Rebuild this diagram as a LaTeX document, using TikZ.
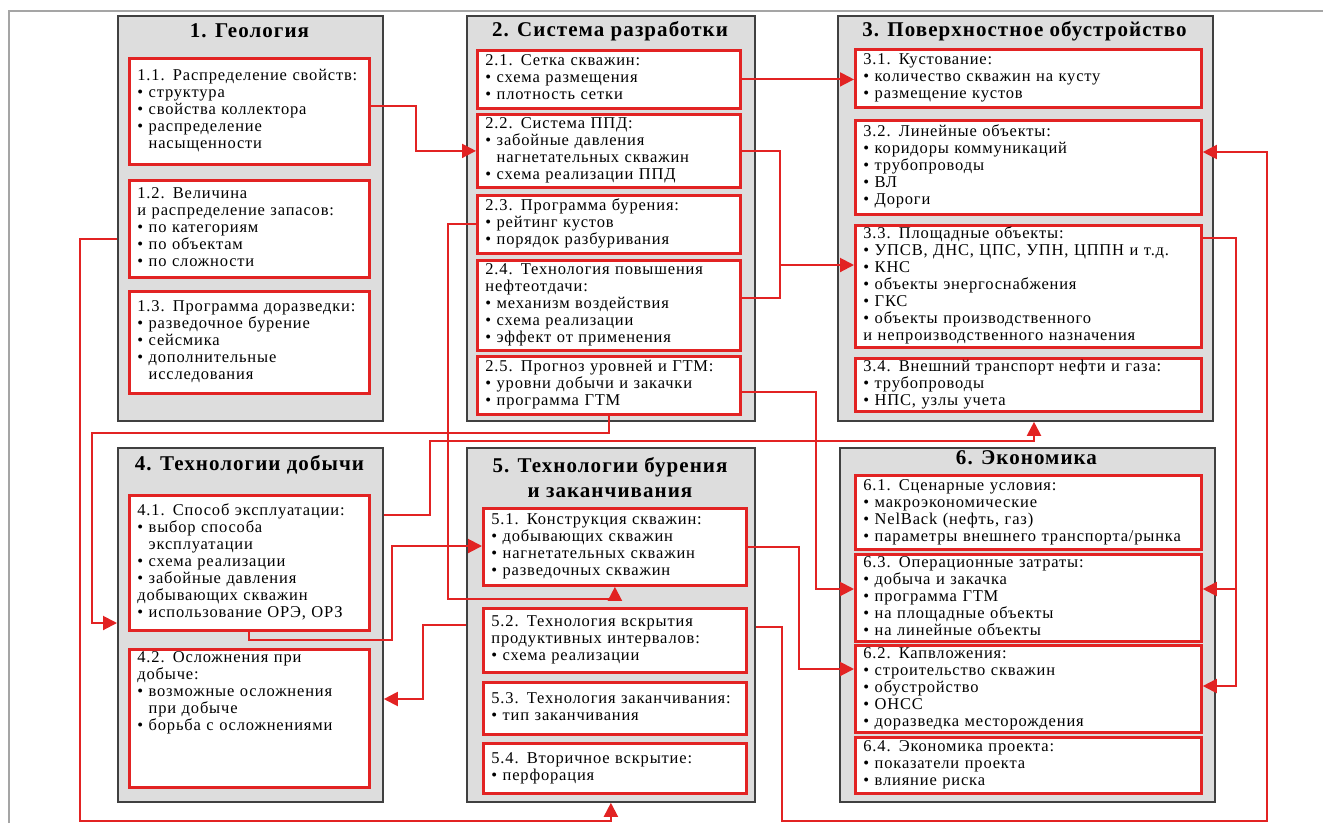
\documentclass[tikz,border=0pt]{standalone}
\usepackage{fontspec}
\setmainfont{Liberation Serif}[LetterSpace=5]
\usetikzlibrary{arrows.meta}
\definecolor{boxred}{RGB}{226,35,35}
\definecolor{boxgray}{RGB}{221,221,221}
\definecolor{framegray}{RGB}{165,165,165}
\newcommand{\ind}{\hphantom{• }}
\newcommand{\lines}[1]{\begin{tabular}{@{}l@{}}#1\end{tabular}}

\tikzset{
 grp/.style={rectangle,draw=black!75,fill=boxgray,line width=1.8pt,anchor=north west,inner sep=0pt},
 ttl/.style={font=\fontsize{21}{25}\selectfont\bfseries,align=center},
 item/.style={rectangle,draw=boxred,fill=white,line width=2.8pt,anchor=north west,inner xsep=8pt,inner ysep=1pt,align=left,font=\fontsize{16.5}{17}\selectfont},
 wa/.style={minimum width=240pt,text width=224pt},
 wb/.style={minimum width=263pt,text width=247pt},
 wc/.style={minimum width=346pt,text width=330pt},
 link/.style={draw=boxred,line width=2pt,-{Triangle[length=14pt,width=14pt]}},
 wire/.style={draw=boxred,line width=2pt}
}

\begin{document}
\begin{tikzpicture}[x=1pt,y=-1pt]
\useasboundingbox (0,0) rectangle (1323,823);
\draw[framegray,line width=1.5pt] (9,823) -- (9,11) -- (1323,11);

\node[grp,minimum width=265pt,minimum height=405pt] (g1) at (117,15) {};
\node[grp,minimum width=288pt,minimum height=405pt] (g2) at (466,15) {};
\node[grp,minimum width=375pt,minimum height=405pt] (g3) at (837,15) {};
\node[grp,minimum width=265pt,minimum height=354pt] (g4) at (117,447) {};
\node[grp,minimum width=288pt,minimum height=354pt] (g5) at (466,447) {};
\node[grp,minimum width=375pt,minimum height=354pt] (g6) at (839,447) {};

\node[ttl] (t1) at (249.5,31) {1. Геология};
\node[ttl] (t2) at (610,31) {2. Система разработки};
\node[ttl] (t3) at (1024.5,31) {3. Поверхностное обустройство};
\node[ttl] (t4) at (249.5,465) {4. Технологии добычи};
\node[ttl] (t5) at (610,478) {5. Технологии бурения\\и заканчивания};
\node[ttl] (t6) at (1026.5,458) {6. Экономика};

\node[item,wa,minimum height=106pt] (s11) at (128,57) {\lines{1.1. Распределение свойств:\\• структура\\• свойства коллектора\\• распределение\\\ind насыщенности}};
\node[item,wa,minimum height=97pt] (s12) at (128,179) {\lines{1.2. Величина\\и распределение запасов:\\• по категориям\\• по объектам\\• по сложности}};
\node[item,wa,minimum height=102pt] (s13) at (128,290) {\lines{1.3. Программа доразведки:\\• разведочное бурение\\• сейсмика\\• дополнительные\\\ind исследования}};

\node[item,wb,minimum height=58pt] (s21) at (476,49) {\lines{2.1. Сетка скважин:\\• схема размещения\\• плотность сетки}};
\node[item,wb,minimum height=73pt] (s22) at (476,113) {\lines{2.2. Система ППД:\\• забойные давления\\\ind нагнетательных скважин\\• схема реализации ППД}};
\node[item,wb,minimum height=58pt] (s23) at (476,194) {\lines{2.3. Программа бурения:\\• рейтинг кустов\\• порядок разбуривания}};
\node[item,wb,minimum height=90pt] (s24) at (476,259) {\lines{2.4. Технология повышения\\нефтеотдачи:\\• механизм воздействия\\• схема реализации\\• эффект от применения}};
\node[item,wb,minimum height=58pt] (s25) at (476,355) {\lines{2.5. Прогноз уровней и ГТМ:\\• уровни добычи и закачки\\• программа ГТМ}};

\node[item,wc,minimum height=58pt] (s31) at (854,48) {\lines{3.1. Кустование:\\• количество скважин на кусту\\• размещение кустов}};
\node[item,wc,minimum height=94pt] (s32) at (854,119) {\lines{3.2. Линейные объекты:\\• коридоры коммуникаций\\• трубопроводы\\• ВЛ\\• Дороги}};
\node[item,wc,minimum height=122pt] (s33) at (854,224) {\lines{3.3. Площадные объекты:\\• УПСВ, ДНС, ЦПС, УПН, ЦППН и т.д.\\• КНС\\• объекты энергоснабжения\\• ГКС\\• объекты производственного\\и непроизводственного назначения}};
\node[item,wc,minimum height=53pt] (s34) at (854,357) {\lines{3.4. Внешний транспорт нефти и газа:\\• трубопроводы\\• НПС, узлы учета}};

\node[item,wa,minimum height=135pt] (s41) at (128,494) {\lines{4.1. Способ эксплуатации:\\• выбор способа\\\ind эксплуатации\\• схема реализации\\• забойные давления\\добывающих скважин\\• использование ОРЭ, ОРЗ}};
\node[item,wa,minimum height=135pt] (s42) at (128,648) {\lines{4.2. Осложнения при\\добыче:\\• возможные осложнения\\\ind при добыче\\• борьба с осложнениями\\~\\~\\~}};

\node[item,wb,minimum width=262pt,minimum height=77pt] (s51) at (482,507) {\lines{5.1. Конструкция скважин:\\• добывающих скважин\\• нагнетательных скважин\\• разведочных скважин}};
\node[item,wb,minimum width=262pt,minimum height=64pt] (s52) at (482,607) {\lines{5.2. Технология вскрытия\\продуктивных интервалов:\\• схема реализации}};
\node[item,wb,minimum width=262pt,minimum height=52pt] (s53) at (482,681) {\lines{5.3. Технология заканчивания:\\• тип заканчивания}};
\node[item,wb,minimum width=262pt,minimum height=50pt] (s54) at (482,742) {\lines{5.4. Вторичное вскрытие:\\• перфорация}};

\node[item,wc,minimum height=74pt] (s61) at (854,474) {\lines{6.1. Сценарные условия:\\• макроэкономические\\• NelBack (нефть, газ)\\• параметры внешнего транспорта/рынка}};
\node[item,wc,minimum height=85pt] (s63) at (854,553) {\lines{6.3. Операционные затраты:\\• добыча и закачка\\• программа ГТМ\\• на площадные объекты\\• на линейные объекты}};
\node[item,wc,minimum height=87pt] (s62) at (854,644) {\lines{6.2. Капвложения:\\• строительство скважин\\• обустройство\\• ОНСС\\• доразведка месторождения}};
\node[item,wc,minimum height=56pt] (s64) at (854,736) {\lines{6.4. Экономика проекта:\\• показатели проекта\\• влияние риска}};

\draw[link] ([yshift=5pt]s11.east) -- ++(45,0) |- (s22.west);
\draw[link] (g1.west |- 0,239) -| (80,821) -| (g5.south);
\draw[link] (s21.east) -- (s31.west |- s21.east);
\draw[wire] (s22.east) -| (780,298) -- (s24.east |- 0,298);
\draw[link] (780,265) -- (s33.west |- 0,265);
\draw[link] (s23.west) -| (448,599) -| (s51.south);
\draw[link] (s25.east |- 0,392) -| (816,589) -- (s63.west |- 0,589);
\draw[link] (s25.south) |- (92,433) |- (g4.west |- 0,623);
\draw[link] (g4.east |- 0,515) -| (430,441) -| (g3.south -| 1034,0);
\draw[link] (s41.south) |- (392,640) |- (s51.west |- 0,546);
\draw[link] (g5.west |- 0,625) -| (423,699) -- (g4.east |- 0,699);
\draw[link] (g5.east |- 0,627) -| (782,821) -| (1267,152) -- (s32.east |- 0,152);
\draw[link] (s51.east) -| (799,669) -- (s62.west |- 0,669);
\draw[link] (s33.east |- 0,238) -| (1236,686) -- (s62.east |- 0,686);
\draw[link] (1236,589) -- (s63.east |- 0,589);
\end{tikzpicture}
\end{document}
